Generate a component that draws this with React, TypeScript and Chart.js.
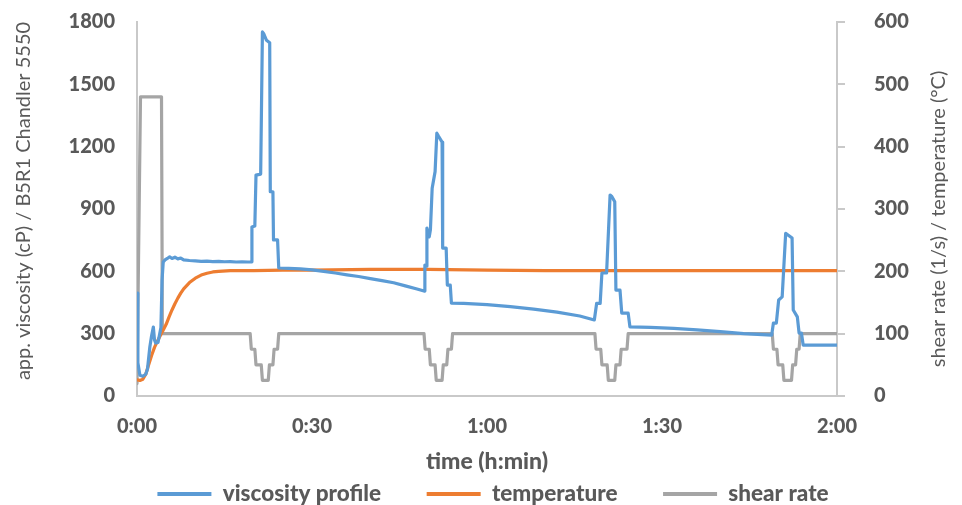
import React, { useEffect, useRef } from "react";
import { Chart, registerables } from "chart.js";

Chart.register(...registerables);

// ---- data (time in minutes) ----
const viscTime = [
  0, 0.15, 0.5, 1.0, 1.5, 1.8, 2.2, 2.5, 2.8, 3.0, 3.2, 3.6, 3.9, 4.1, 4.3, 4.5, 4.8, 5.2, 5.6, 6.0,
  6.5, 7.0, 7.5, 8.0, 9.0, 10.0, 11.0, 12.0, 13.0, 14.0, 15.0, 16.0, 17.0, 18.0, 19.0, 19.55,
  19.7, 20.2, 20.4, 21.2, 21.5, 21.7, 22.2, 22.75, 22.85, 23.3, 23.4, 24.1, 24.3,
  26, 28, 30, 32, 34, 36, 38, 40, 42, 44, 46, 48, 49.2,
  49.35, 49.55, 49.7, 50.1, 50.3, 50.6, 51.1, 51.4, 51.7, 52.3, 52.4, 53.0, 53.2, 53.7, 53.9,
  56, 60, 64, 68, 72, 75.9, 78.4,
  78.8, 79.4, 79.7, 80.5, 81.1, 81.4, 81.9, 82.1, 82.8, 83.1, 84.2, 84.5,
  88, 92, 96, 100, 104, 108.8,
  109.1, 109.6, 110.0, 110.6, 111.2, 111.6, 112.3, 112.5, 113.2, 113.5, 113.9, 114.2, 120,
];
const viscosity = [
  495, 160, 100, 95, 105, 130, 236, 290, 332, 270, 255, 258, 300, 330, 560, 645, 655, 662, 670, 662,
  668, 660, 664, 655, 652, 650, 648, 649, 647, 648, 646, 647, 645, 646, 645, 646,
  813, 818, 1063, 1068, 1752, 1745, 1712, 1700, 983, 983, 751, 751, 616,
  614, 612, 607, 600, 592, 583, 575, 565, 555, 545, 530, 515, 505,
  630, 625, 808, 766, 800, 1000, 1080, 1265, 1250, 1222, 712, 712, 534, 534, 447,
  446, 440, 430, 418, 404, 385, 366,
  446, 446, 592, 592, 967, 960, 935, 510, 510, 399, 399, 333,
  330, 325, 318, 310, 300, 293,
  351, 351, 462, 477, 783, 775, 760, 414, 381, 303, 303, 245, 245,
];

const tempTime = [
  0, 0.5, 1.0, 1.5, 2.0, 2.5, 3.0, 3.5, 4.0, 4.5, 5.0, 5.5, 6.0, 6.5, 7.0, 7.5, 8.0, 9.0, 10.0,
  11.0, 12.0, 13.0, 14.0, 16.0, 20, 25, 30, 40, 50, 60, 70, 80, 90, 100, 110, 120,
];
const temperature = [
  26, 25, 27, 35, 50, 65, 78, 88, 97, 106, 115, 127, 138, 148, 157, 165, 172, 182, 189,
  194, 197, 199, 200, 201, 201, 202, 202, 203, 203, 202, 201, 201, 201, 201, 201, 201,
];

const shearTime = [
  0, 0.6, 4.2, 4.35,
  19.4, 19.6, 20.2, 20.4, 21.3, 21.5, 22.5, 22.7, 23.3, 23.5, 24.1, 24.3,
  49.2, 49.4, 50.1, 50.3, 51.1, 51.3, 52.3, 52.5, 53.1, 53.3, 53.9, 54.1,
  78.5, 78.7, 79.5, 79.7, 80.6, 80.8, 81.9, 82.1, 82.8, 83.0, 84.0, 84.2,
  108.9, 109.1, 109.7, 109.9, 110.7, 110.9, 112.2, 112.4, 112.9, 113.1, 113.5, 113.7, 120,
];
const shearRate = [
  20, 480, 480, 100,
  100, 75, 75, 50, 50, 25, 25, 50, 50, 75, 75, 100,
  100, 75, 75, 50, 50, 25, 25, 50, 50, 75, 75, 100,
  100, 75, 75, 50, 50, 25, 25, 50, 50, 75, 75, 100,
  100, 75, 75, 50, 50, 25, 25, 50, 50, 75, 75, 100, 100,
];

const xTickValues = [0, 30, 60, 90, 120];
const xTickLabels = ["0:00", "0:30", "1:00", "1:30", "2:00"];
const leftTicks = [0, 300, 600, 900, 1200, 1500, 1800];
const rightTicks = [0, 100, 200, 300, 400, 500, 600];

const seriesNames = ["viscosity profile", "temperature", "shear rate"];
const leftTitle = "app. viscosity (cP) / B5R1 Chandler 5550";
const rightTitle = "shear rate (1/s) / temperature (°C)";
const xTitle = "time (h:min)";

const GRAY_TEXT = "#595959";
const AXIS = "#C9C9C9";
const FONT = "Lato";
const TICK_FONT = { family: FONT, size: 20, weight: "900" };

function toPoints(xs: number[], ys: number[]) {
  return xs.map((x, i) => ({ x, y: ys[i] }));
}

const sideTitlesPlugin = {
  id: "sideTitles",
  afterDraw(chart: any) {
    const ctx = chart.ctx;
    const area = chart.chartArea;
    const mid = (area.top + area.bottom) / 2;
    const draw = (text: string, x: number, y: number) => {
      ctx.save();
      ctx.font = `20px ${FONT}`;
      ctx.fillStyle = GRAY_TEXT;
      ctx.textAlign = "center";
      ctx.textBaseline = "middle";
      ctx.translate(x, y);
      ctx.rotate(-Math.PI / 2);
      ctx.fillText(text, 0, 0);
      ctx.restore();
    };
    draw(leftTitle, 24, mid - 8);
    draw(rightTitle, 939, mid + 10);
  },
};

export default function App() {
  const ref = useRef<HTMLCanvasElement | null>(null);

  useEffect(() => {
    if (!ref.current) return;
    const lineDs = (label: string, data: any[], color: string, axis: string) => ({
      label,
      data,
      borderColor: color,
      backgroundColor: color,
      borderWidth: 3.2,
      pointRadius: 0,
      tension: 0,
      yAxisID: axis,
      borderJoinStyle: "round" as const,
      borderCapStyle: "round" as const,
    });
    const noVertOverflow = (s: any, w: number) => {
      s.width = w;
      s.paddingTop = 0;
      s.paddingBottom = 0;
    };
    const chart = new Chart(ref.current, {
      type: "line",
      data: {
        datasets: [
          lineDs(seriesNames[0], toPoints(viscTime, viscosity), "#5B9BD5", "y"),
          lineDs(seriesNames[1], toPoints(tempTime, temperature), "#ED7D31", "y2"),
          lineDs(seriesNames[2], toPoints(shearTime, shearRate), "#A5A5A5", "y2"),
        ],
      },
      options: {
        animation: false,
        responsive: false,
        events: [],
        layout: { padding: { top: 22, left: 0, right: -24, bottom: 0 } },
        plugins: {
          tooltip: { enabled: false },
          legend: {
            position: "bottom",
            maxHeight: 67.85,
            labels: {
              boxWidth: 54,
              boxHeight: 4,
              padding: 45.6,
              color: GRAY_TEXT,
              font: { family: FONT, size: 22.5, weight: "900" },
              generateLabels: (c: any) =>
                Chart.defaults.plugins.legend.labels
                  .generateLabels(c)
                  .map((l: any) => ({ ...l, lineWidth: 0, fillStyle: l.strokeStyle })),
            },
          },
        },
        scales: {
          x: {
            type: "linear",
            min: 0,
            max: 120,
            afterBuildTicks: (s: any) => {
              s.ticks = xTickValues.map((v) => ({ value: v }));
            },
            afterFit: (s: any) => {
              s.height = 41.15;
            },
            grid: { display: false, drawTicks: false },
            border: { display: true, color: AXIS, width: 2 },
            ticks: {
              padding: 19,
              maxRotation: 0,
              color: GRAY_TEXT,
              font: TICK_FONT,
              callback: (v: any) => {
                const i = xTickValues.indexOf(Number(v));
                return i >= 0 ? xTickLabels[i] : "";
              },
            },
            title: {
              display: true,
              text: xTitle,
              color: GRAY_TEXT,
              font: { family: FONT, size: 23, weight: "900" },
              padding: { top: 0, bottom: -38.6 },
            },
          },
          y: {
            type: "linear",
            position: "left",
            min: 0,
            max: 1800,
            afterBuildTicks: (s: any) => {
              s.ticks = leftTicks.map((v) => ({ value: v }));
            },
            afterFit: (s: any) => noVertOverflow(s, 137),
            grid: { display: false, drawTicks: false },
            border: { display: true, color: AXIS, width: 2 },
            ticks: {
              padding: 22,
              color: GRAY_TEXT,
              font: TICK_FONT,
              callback: (v: any) => String(v),
            },
          },
          y2: {
            type: "linear",
            position: "right",
            min: 0,
            max: 600,
            afterBuildTicks: (s: any) => {
              s.ticks = rightTicks.map((v) => ({ value: v }));
            },
            afterFit: (s: any) => noVertOverflow(s, 149),
            grid: {
              display: true,
              drawOnChartArea: false,
              drawTicks: true,
              tickLength: 8,
              color: AXIS,
              lineWidth: 2,
            },
            border: { display: true, color: AXIS, width: 2 },
            ticks: {
              padding: 29,
              color: GRAY_TEXT,
              font: TICK_FONT,
              callback: (v: any) => String(v),
            },
          },
        },
      },
      plugins: [sideTitlesPlugin],
    } as any);
    return () => chart.destroy();
  }, []);

  return (
    <div
      style={{
        position: "fixed",
        left: 0,
        top: 0,
        width: 962,
        height: 505,
        overflow: "hidden",
        background: "#fff",
      }}
    >
      <canvas ref={ref} width={962} height={505} style={{ display: "block" }} />
    </div>
  );
}
